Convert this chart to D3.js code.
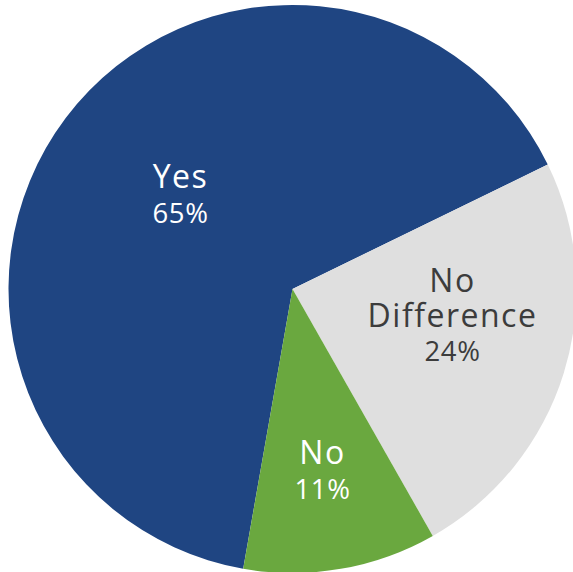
<!DOCTYPE html>
<html>
<head>
<meta charset="utf-8">
<script src="https://cdn.jsdelivr.net/npm/d3@7"></script>
<style>
  html, body { margin: 0; padding: 0; background: #fff; }
  svg { display: block; }
  text { font-family: "Open Sans", "Noto Sans", sans-serif; }
</style>
</head>
<body>
<svg id="chart" width="573" height="572"></svg>
<script>
// Data
const categories = ["Yes", "No Difference", "No"];
const labelLines = [["Yes"], ["No", "Difference"], ["No"]];
const values = [65, 24, 11];
const percentLabels = ["65%", "24%", "11%"];

// Styles
const colors = ["#1f4582", "#dfdfdf", "#6aa83f"];
const textColors = ["#ffffff", "#3c3c3c", "#ffffff"];
// label anchor offset from pie centre (first baseline), per slice
const labelOffsets = [[-112, -101], [160, 3], [30, 175]];

const W = 573, H = 572;
const cx = 292.5, cy = 289, R = 284;

const svg = d3.select("#chart");
const g = svg.append("g").attr("transform", `translate(${cx},${cy})`);

const data = categories.map((c, i) => ({ name: c, value: values[i], i }));

const pie = d3.pie()
  .value(d => d.value)
  .sort(null)
  .startAngle(-170 * Math.PI / 180)
  .endAngle(190 * Math.PI / 180);

const arc = d3.arc().innerRadius(0).outerRadius(R);

const arcs = pie(data);

g.selectAll("path.slice")
  .data(arcs)
  .join("path")
  .attr("class", "slice")
  .attr("d", arc)
  .attr("fill", d => colors[d.data.i]);

const lineH = 34.5;
arcs.forEach(a => {
  const i = a.data.i;
  const [ox, oy] = labelOffsets[i];
  const lines = labelLines[i].concat([percentLabels[i]]);
  lines.forEach((ln, k) => {
    const isPct = k === lines.length - 1;
    g.append("text")
      .attr("text-anchor", "middle")
      .attr("fill", textColors[i])
      .attr("x", ox)
      .attr("y", oy + k * lineH)
      .attr("font-size", isPct ? 27.5 : 32)
      .attr("letter-spacing", isPct ? 0.6 : 1.5)
      .text(ln);
  });
});
</script>
</body>
</html>
